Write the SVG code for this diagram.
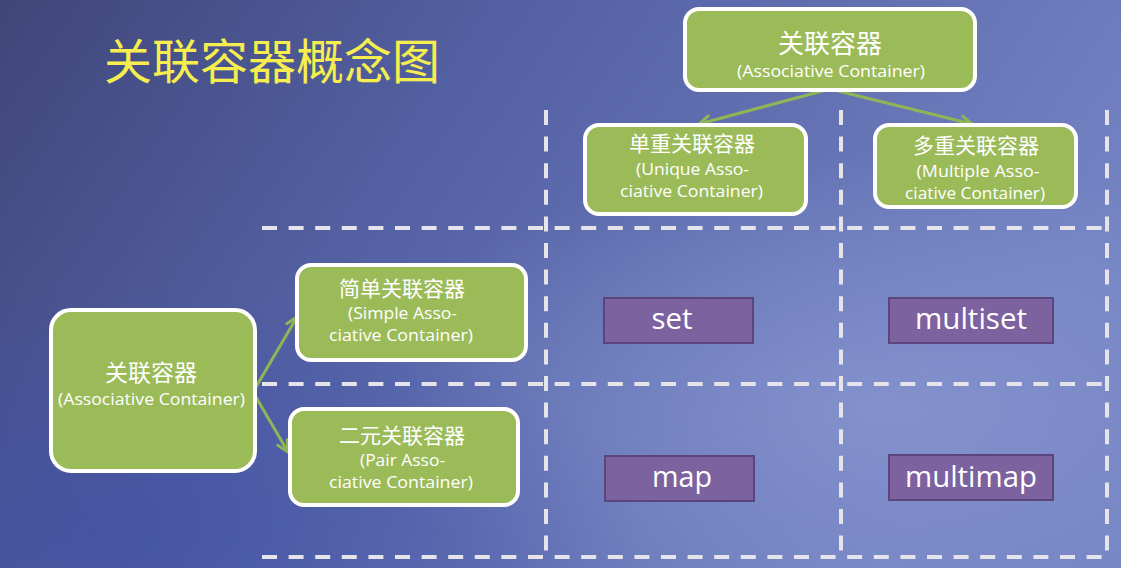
<svg xmlns="http://www.w3.org/2000/svg" width="1121" height="568" viewBox="0 0 1121 568">
  <defs>
    <linearGradient id="bg" x1="0" y1="0" x2="1" y2="0.35">
      <stop offset="0" stop-color="#3f4679"/>
      <stop offset="0.45" stop-color="#5563a6"/>
      <stop offset="1" stop-color="#7382c2"/>
    </linearGradient>
    <radialGradient id="glow1" cx="0.78" cy="0.72" r="0.45">
      <stop offset="0" stop-color="#8b9ad2" stop-opacity="0.7"/>
      <stop offset="1" stop-color="#8b9ad2" stop-opacity="0"/>
    </radialGradient>
    <radialGradient id="glow2" cx="0.12" cy="0.95" r="0.45">
      <stop offset="0" stop-color="#3a4ca6" stop-opacity="0.55"/>
      <stop offset="1" stop-color="#3a4ca6" stop-opacity="0"/>
    </radialGradient>
    <marker id="arr" viewBox="0 0 14 14" refX="12.5" refY="7" markerWidth="14" markerHeight="14" markerUnits="userSpaceOnUse" orient="auto">
      <path d="M1.5,1.5 L12.5,7 L1.5,12.5" fill="none" stroke="#8fb556" stroke-width="3" stroke-linecap="round" stroke-linejoin="round"/>
    </marker>
    <style>
      .g { fill: #9bbb59; stroke: #ffffff; stroke-width: 4; }
      .p { fill: #7d62a0; stroke: #5a467c; stroke-width: 2; }
      .cn { font-family: "Noto Sans CJK SC", "Noto Sans", sans-serif; fill: #ffffff; text-anchor: middle; }
      .en { font-family: "Open Sans", "Liberation Sans", sans-serif; fill: #ffffff; text-anchor: middle; font-size: 17px; }
      .lb { font-family: "Open Sans", "Liberation Sans", sans-serif; fill: #ffffff; text-anchor: middle; font-size: 29px; }
      .d { stroke: #e4e4ea; stroke-width: 4; stroke-dasharray: 15 11.6; fill: none; }
      .c { stroke: #8fb556; stroke-width: 3; fill: none; marker-end: url(#arr); }
    </style>
  </defs>

  <rect x="0" y="0" width="1121" height="568" fill="url(#bg)"/>
  <rect x="0" y="0" width="1121" height="568" fill="url(#glow1)"/>
  <rect x="0" y="0" width="1121" height="568" fill="url(#glow2)"/>

  <text x="272" y="79" font-family="Noto Sans CJK SC, sans-serif" font-size="48" fill="#f6ee4e" text-anchor="middle">关联容器概念图</text>

  <g id="grid">
    <line class="d" x1="262" y1="228" x2="1108" y2="228"/>
    <line class="d" x1="262" y1="384" x2="1108" y2="384"/>
    <line class="d" x1="262" y1="557" x2="1108" y2="557"/>
    <line class="d" x1="546" y1="110" x2="546" y2="559"/>
    <line class="d" x1="841" y1="110" x2="841" y2="559"/>
    <line class="d" x1="1107" y1="110" x2="1107" y2="559"/>
  </g>

  <g id="connectors">
    <line class="c" x1="830" y1="89" x2="699" y2="124"/>
    <line class="c" x1="830" y1="89" x2="972" y2="124"/>
    <line class="c" x1="253" y1="392" x2="297" y2="317"/>
    <line class="c" x1="253" y1="392" x2="288" y2="452"/>
  </g>

  <g id="root">
    <rect class="g" x="685" y="9" width="290" height="81" rx="14"/>
    <text class="cn" x="830" y="53" font-size="26">关联容器</text>
    <text class="en" x="831" y="76.5" textLength="188" lengthAdjust="spacingAndGlyphs">(Associative Container)</text>
  </g>

  <g id="unique">
    <rect class="g" x="585" y="125" width="221" height="89" rx="14"/>
    <text class="cn" x="692" y="151" font-size="21">单重关联容器</text>
    <text class="en" x="692.5" y="174.5" textLength="113" lengthAdjust="spacingAndGlyphs">(Unique Asso-</text>
    <text class="en" x="691.5" y="196.5" textLength="143" lengthAdjust="spacingAndGlyphs">ciative Container)</text>
  </g>

  <g id="multiple">
    <rect class="g" x="875" y="125" width="201" height="82" rx="14"/>
    <text class="cn" x="976" y="153" font-size="21">多重关联容器</text>
    <text class="en" x="978" y="176.5" textLength="123" lengthAdjust="spacingAndGlyphs">(Multiple Asso-</text>
    <text class="en" x="975" y="198.5" textLength="140" lengthAdjust="spacingAndGlyphs">ciative Container)</text>
  </g>

  <g id="assoc">
    <rect class="g" x="51" y="310" width="204" height="161" rx="20"/>
    <text class="cn" x="151" y="381" font-size="23">关联容器</text>
    <text class="en" x="151.5" y="404.5" textLength="187" lengthAdjust="spacingAndGlyphs">(Associative Container)</text>
  </g>

  <g id="simple">
    <rect class="g" x="297" y="265" width="229" height="95" rx="14"/>
    <text class="cn" x="402" y="296" font-size="21">简单关联容器</text>
    <text class="en" x="402.5" y="318.5" textLength="109" lengthAdjust="spacingAndGlyphs">(Simple Asso-</text>
    <text class="en" x="401" y="341" textLength="144" lengthAdjust="spacingAndGlyphs">ciative Container)</text>
  </g>

  <g id="pair">
    <rect class="g" x="290" y="409" width="228" height="96" rx="14"/>
    <text class="cn" x="402" y="443" font-size="21">二元关联容器</text>
    <text class="en" x="402.5" y="466" textLength="85" lengthAdjust="spacingAndGlyphs">(Pair Asso-</text>
    <text class="en" x="401" y="488" textLength="144" lengthAdjust="spacingAndGlyphs">ciative Container)</text>
  </g>

  <g id="set">
    <rect class="p" x="604" y="298" width="149" height="45"/>
    <text class="lb" x="672" y="329" textLength="41" lengthAdjust="spacingAndGlyphs">set</text>
  </g>
  <g id="multiset">
    <rect class="p" x="889" y="298" width="164" height="45"/>
    <text class="lb" x="971" y="329" textLength="112" lengthAdjust="spacingAndGlyphs">multiset</text>
  </g>
  <g id="map">
    <rect class="p" x="605" y="456" width="149" height="45"/>
    <text class="lb" x="682" y="487" textLength="60" lengthAdjust="spacingAndGlyphs">map</text>
  </g>
  <g id="multimap">
    <rect class="p" x="889" y="455" width="164" height="45"/>
    <text class="lb" x="971" y="487" textLength="132" lengthAdjust="spacingAndGlyphs">multimap</text>
  </g>
</svg>
